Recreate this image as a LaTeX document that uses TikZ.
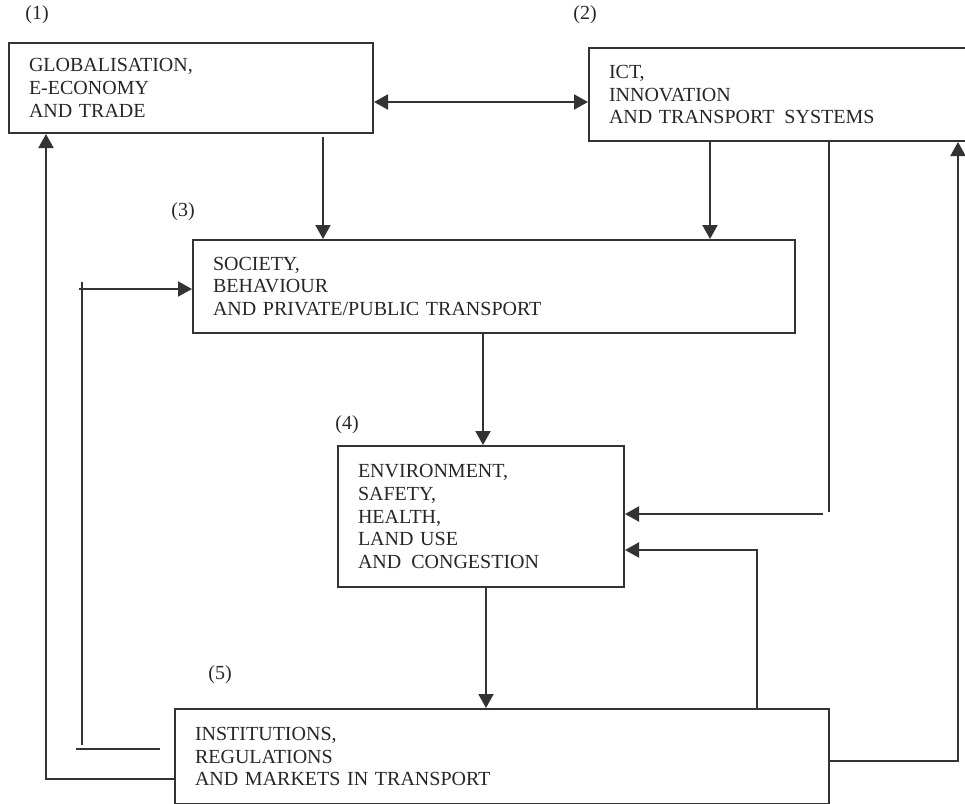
\documentclass[tikz,border=0pt]{standalone}
\usepackage{fontspec}
\setmainfont{Liberation Serif}
\usetikzlibrary{arrows.meta}
\begin{document}
\begin{tikzpicture}[x=0.5pt,y=-0.5pt,
  txt/.style={font=\fontsize{10pt}{11.4pt}\selectfont,text=black!85,inner sep=0pt},
  blk/.style={txt,draw=black!80,line width=1pt,anchor=north west,align=left,inner xsep=10pt,inner ysep=0pt},
  e/.style={draw=black!80,line width=1pt},
  arr/.style={e,-{Triangle[length=7pt,width=7.5pt]}},
  arr2/.style={e,{Triangle[length=7pt,width=7.5pt]}-{Triangle[length=7pt,width=7.5pt]}}]
  \useasboundingbox (0,0) rectangle (965,804);
  % the five blocks
  \node[blk,text width=162pt,minimum height=45pt] (b1) at (8,42)
    {GLOBALISATION,\\E-ECONOMY\\AND TRADE};
  \node[blk,text width=170pt,minimum height=46.5pt] (b2) at (588,47)
    {ICT,\\INNOVATION\\AND TRANSPORT\ \,SYSTEMS};
  \node[blk,text width=281pt,minimum height=46.5pt] (b3) at (192,239)
    {SOCIETY,\\BEHAVIOUR\\AND PRIVATE/PUBLIC TRANSPORT};
  \node[blk,text width=123pt,minimum height=70.5pt] (b4) at (337,445)
    {ENVIRONMENT,\\SAFETY,\\HEALTH,\\LAND USE\\AND\ \,CONGESTION};
  \node[blk,text width=307pt,minimum height=47.5pt] (b5) at (174,708)
    {INSTITUTIONS,\\REGULATIONS\\AND MARKETS IN TRANSPORT};
  % numbers
  \foreach \k/\xx/\yy in {1/37/15,2/585/15,3/183/212,4/347/425,5/220/675}
    \node[txt] (n\k) at (\xx,\yy) {(\k)};
  % bends and free ends
  \coordinate (k13) at (323,0);
  \coordinate (k12) at (0,102);
  \coordinate (k23) at (710,0);
  \coordinate (k34) at (483,0);
  \coordinate (k45) at (486,0);
  \coordinate (o1) at (46,779);
  \coordinate (i1) at (160,749);
  \coordinate (i2) at (76,749);
  \coordinate (i3) at (82,745);
  \coordinate (i4) at (82,282);
  \coordinate (i5) at (79,289);
  \coordinate (r1) at (829,512);
  \coordinate (r2) at (823,514);
  \coordinate (r3) at (757,550);
  \coordinate (r4) at (958,761);
  % connectors
  \draw[arr2] (b1.east |- k12) -- (b2.west |- k12);
  \draw[arr] ([yshift=-1.5pt]b1.south -| k13) -- (b3.north -| k13);
  \draw[arr] (b2.south -| k23) -- (b3.north -| k23);
  \draw[arr] (b3.south -| k34) -- (b4.north -| k34);
  \draw[arr] (b4.south -| k45) -- (b5.north -| k45);
  \draw[arr] (b5.west |- o1) -- (o1) -- (b1.south -| o1);
  \draw[e] (i1) -- (i2);
  \draw[e] (i3) -- (i4);
  \draw[arr] (i5) -- (b3.west |- i5);
  \draw[e] (b2.south -| r1) -- (r1);
  \draw[arr] (r2) -- (b4.east |- r2);
  \draw[arr] (b5.north -| r3) -- (r3) -- (b4.east |- r3);
  \draw[arr] (b5.east |- r4) -- (r4) -- (b2.south -| r4);
\end{tikzpicture}
\end{document}
